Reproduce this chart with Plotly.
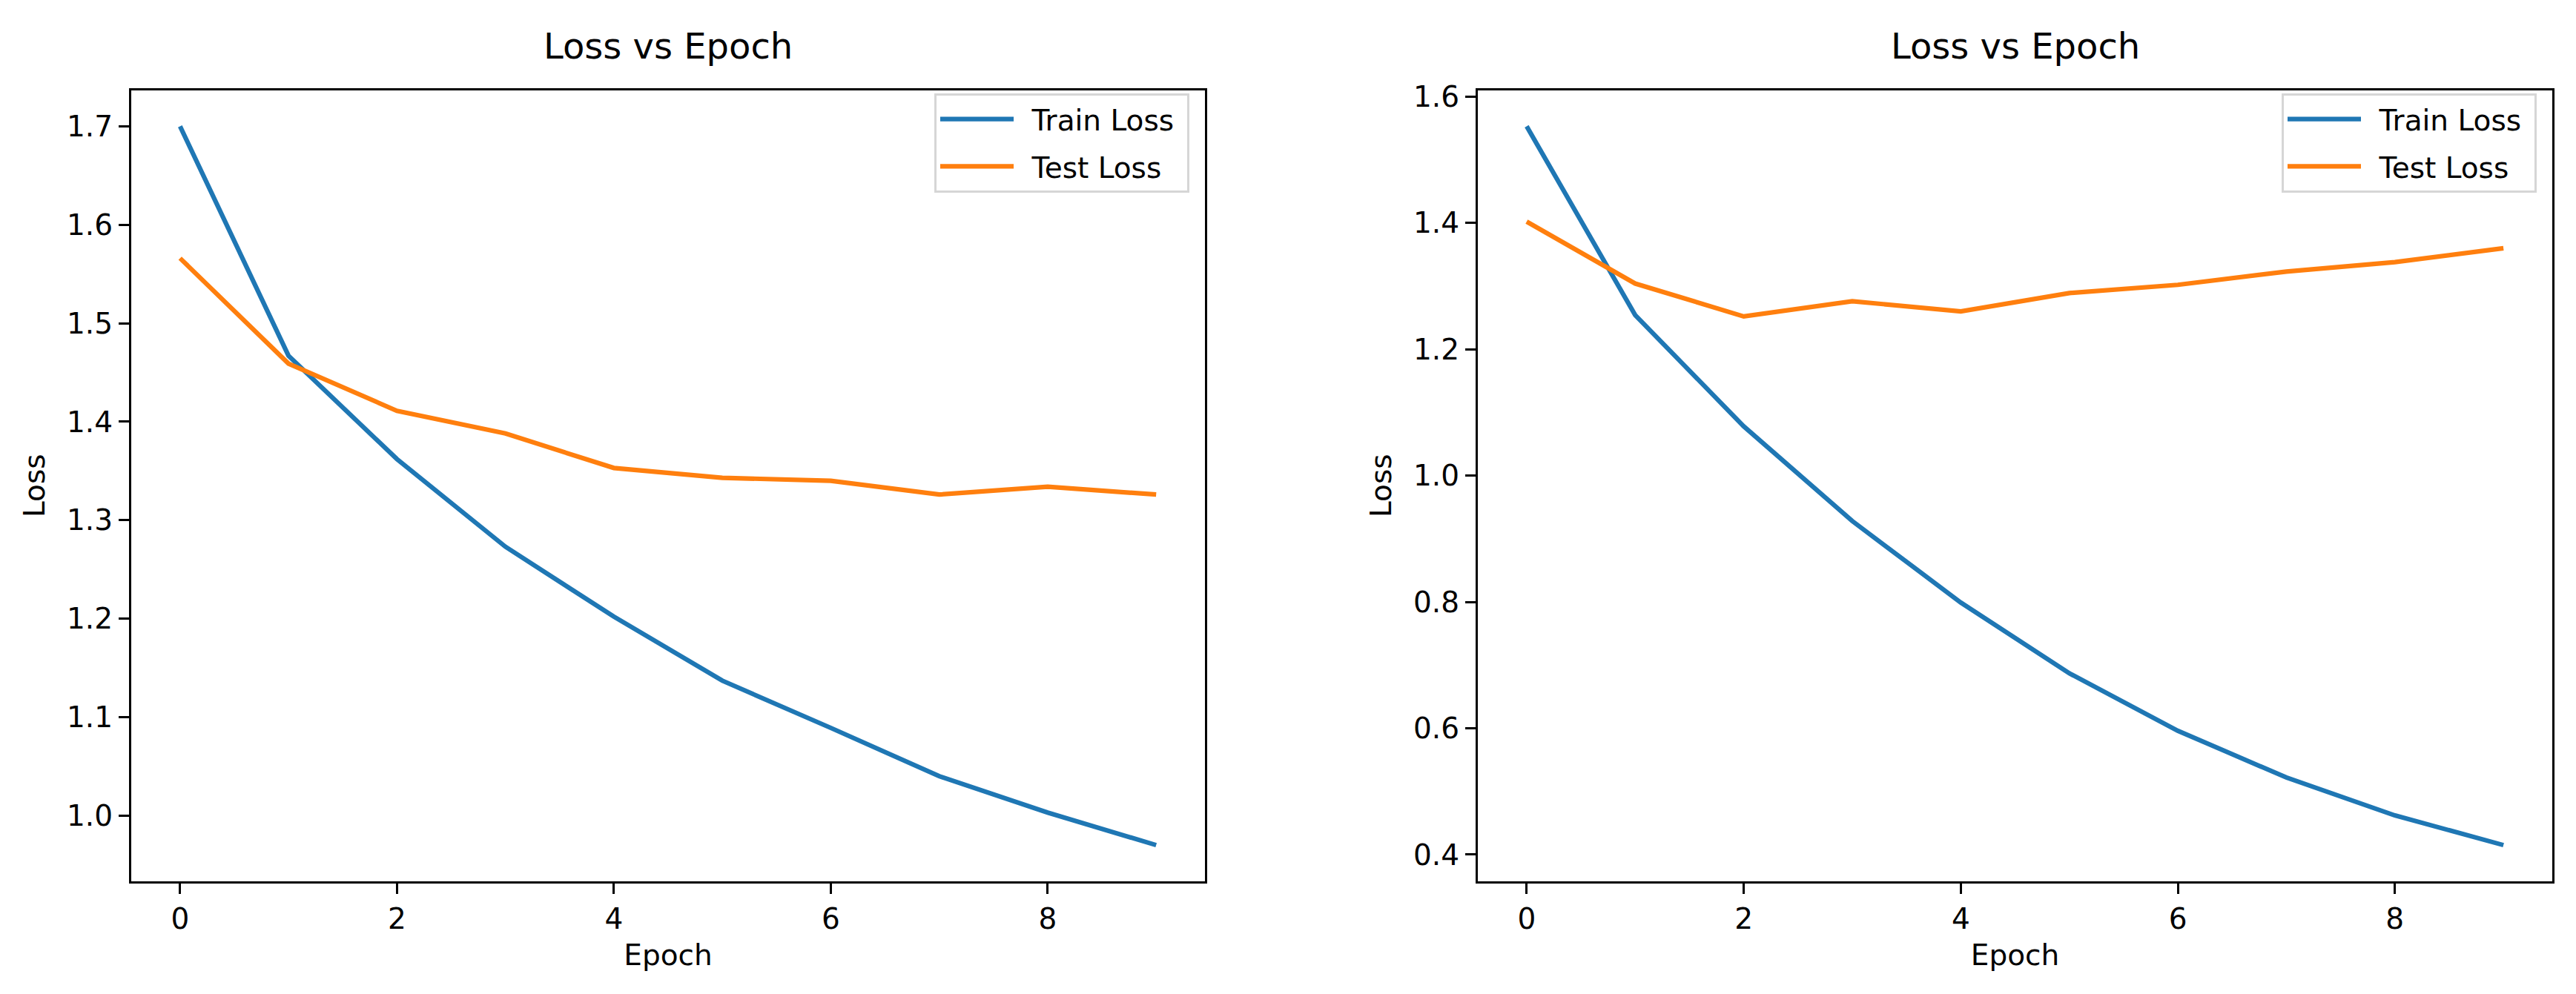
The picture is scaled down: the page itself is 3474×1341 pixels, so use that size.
import plotly.graph_objects as go

epochs = list(range(10))
train_loss_a = [1.700, 1.467, 1.362, 1.273, 1.202, 1.137, 1.089, 1.040, 1.003, 0.970]
test_loss_a = [1.566, 1.459, 1.411, 1.388, 1.353, 1.343, 1.340, 1.326, 1.334, 1.326]
train_loss_b = [1.553, 1.254, 1.078, 0.928, 0.799, 0.687, 0.596, 0.522, 0.462, 0.415]
test_loss_b = [1.402, 1.304, 1.252, 1.276, 1.260, 1.289, 1.302, 1.323, 1.338, 1.360]
series_names = ["Train Loss", "Test Loss"]
title_text = "Loss vs Epoch"
x_title = "Epoch"
y_title = "Loss"
x_ticks = [0, 2, 4, 6, 8]

BLUE = "#1f77b4"
ORANGE = "#ff7f0e"
W, H = 3474, 1341
FONT = "DejaVu Sans"
FS = 39


def legend_label(name):
    # small visual padding around the legend text (matplotlib-like spacing)
    return "\u2002" + name + "\u00a0"


fig = go.Figure()
for xa, ya, tr, te, lg in [("x", "y", train_loss_a, test_loss_a, "legend"),
                          ("x2", "y2", train_loss_b, test_loss_b, "legend2")]:
    fig.add_trace(go.Scatter(x=epochs, y=tr, mode="lines", name=legend_label(series_names[0]),
                             line=dict(color=BLUE, width=6.2), xaxis=xa, yaxis=ya,
                             legend=lg, legendgroup=lg + "a"))
    fig.add_trace(go.Scatter(x=epochs, y=te, mode="lines", name=legend_label(series_names[1]),
                             line=dict(color=ORANGE, width=6.2), xaxis=xa, yaxis=ya,
                             legend=lg, legendgroup=lg + "b"))

ytop = 1 - 109 / H
ybot = 1 - 1187 / H
dom1 = [177 / W, 1625 / W]
dom2 = [1993 / W, 3442 / W]

axis_common = dict(showline=True, linecolor="black", linewidth=3.3, mirror=True,
                   ticks="outside", ticklen=14, tickwidth=3.3, tickcolor="black",
                   showgrid=False, zeroline=False,
                   tickfont=dict(family=FONT, size=FS, color="black"),
                   title_font=dict(family=FONT, size=FS, color="black"))


def xr(vals):
    m = (max(vals) - min(vals)) * 0.05
    return [min(vals) - m, max(vals) + m]


def yr(*arrs):
    lo = min(min(a) for a in arrs)
    hi = max(max(a) for a in arrs)
    m = (hi - lo) * 0.05
    return [lo - m, hi + m]


legend_common = dict(xanchor="right", yanchor="top",
                     bgcolor="rgba(255,255,255,0.8)", bordercolor="#d6d6d6", borderwidth=3,
                     font=dict(family=FONT, size=FS, color="black"), tracegroupgap=10,
                     itemwidth=99)

fig.update_layout(
    width=W, height=H,
    margin=dict(l=0, r=0, t=0, b=0),
    paper_bgcolor="white", plot_bgcolor="white",
    font=dict(family=FONT, size=FS, color="black"),
    xaxis=dict(domain=dom1, anchor="y", range=xr(epochs), tickvals=x_ticks,
               title=dict(text=x_title, standoff=15), **axis_common),
    yaxis=dict(domain=[ybot, ytop], anchor="x", range=yr(train_loss_a, test_loss_a),
               dtick=0.1, tickformat=".1f", title=dict(text=y_title, standoff=18), **axis_common),
    xaxis2=dict(domain=dom2, anchor="y2", range=xr(epochs), tickvals=x_ticks,
                title=dict(text=x_title, standoff=15), **axis_common),
    yaxis2=dict(domain=[ybot, ytop], anchor="x2", range=yr(train_loss_b, test_loss_b),
                dtick=0.2, tickformat=".1f", title=dict(text=y_title, standoff=18), **axis_common),
    legend=dict(x=dom1[1] - 21 / W, y=ytop - 4 / H, **legend_common),
    legend2=dict(x=dom2[1] - 21 / W, y=ytop - 4 / H, **legend_common),
    showlegend=True,
)

for dom in (dom1, dom2):
    fig.add_annotation(text=title_text, x=(dom[0] + dom[1]) / 2, y=ytop, xref="paper", yref="paper",
                       xanchor="center", yanchor="bottom", yshift=30, showarrow=False,
                       font=dict(family=FONT, size=48, color="black"))

fig.write_html("out.html", post_script="document.body.style.margin='0';",
               config={"displayModeBar": False})
